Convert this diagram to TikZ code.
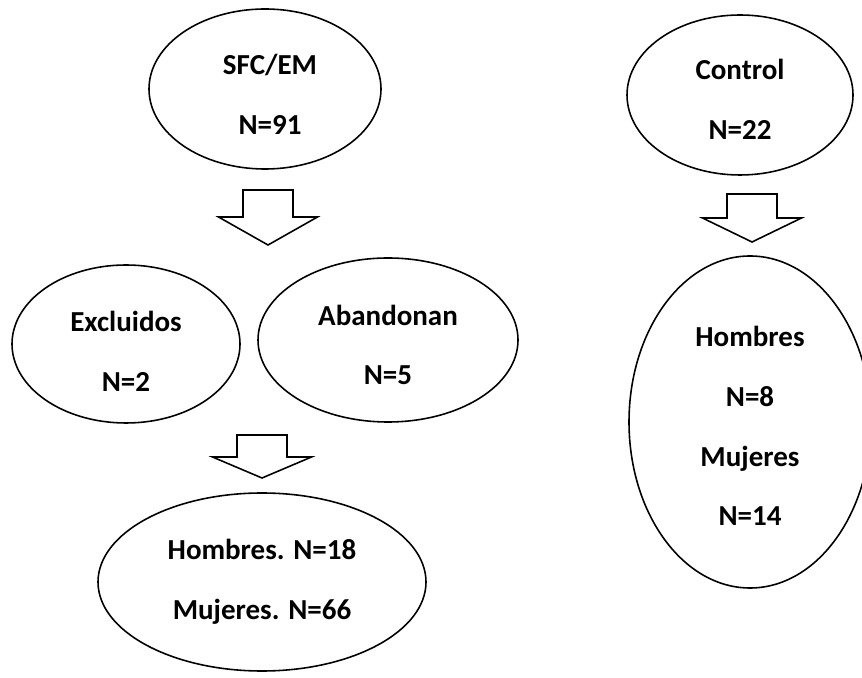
\documentclass[tikz,border=0pt]{standalone}
\usepackage{fontspec}
\setmainfont{Carlito}
\usepackage{tikz}
\usetikzlibrary{shapes.geometric}
\usetikzlibrary{arrows.meta, positioning}

\begin{document}
\begin{tikzpicture}[scale=1,
  blob/.style={draw, line width=0.9pt, ellipse, inner sep=0pt},
  txt/.style={align=center, font=\fontsize{16.5}{34}\selectfont\bfseries}]
\useasboundingbox (0,0) rectangle (17.24,13.54);
% Ellipses
\node[blob, minimum width=4.64cm, minimum height=3.2cm] (sfc) at (5.30, 11.76) {};
\node[blob, minimum width=4.52cm, minimum height=3.2cm] (control) at (14.80, 11.64) {};
\node[blob, minimum width=4.56cm, minimum height=3.16cm] (excl) at (2.52, 6.66) {};
\node[blob, minimum width=5.2cm, minimum height=3.28cm] (aband) at (7.76, 6.74) {};
\node[blob, minimum width=6.56cm, minimum height=3.56cm] (total) at (5.24, 1.90) {};
\node[blob, minimum width=4.84cm, minimum height=6.64cm] (ctrltotal) at (15.00, 5.10) {};
% Texts
\node[txt] (sfctxt) at ([shift={(0.1,-0.1)}]sfc.center) {SFC/EM\\N=91};
\node[txt] (controltxt) at ([yshift=-0.08cm]control.center) {Control\\N=22};
\node[txt] (excltxt) at ([yshift=-0.14cm]excl.center) {Excluidos\\N=2};
\node[txt] (abandtxt) at ([yshift=-0.1cm]aband.center) {Abandonan\\N=5};
\node[txt] (totaltxt) at (total.center) {Hombres. N=18\\Mujeres. N=66};
\node[txt] (ctrltotaltxt) at ([yshift=-0.08cm]ctrltotal.center) {Hombres\\N=8\\Mujeres\\N=14};
% Block arrows
\foreach \cx/\ytop/\ysh/\ytip in {5.36/9.74/9.20/8.64, 15.04/9.66/9.18/8.70, 5.24/4.84/4.40/3.98}
  \draw[line width=0.9pt, line join=miter] (\cx-0.5,\ytop) -- (\cx+0.5,\ytop) -- (\cx+0.5,\ysh)
    -- (\cx+0.99,\ysh) -- (\cx,\ytip) -- (\cx-0.99,\ysh) -- (\cx-0.5,\ysh) -- cycle;

\end{tikzpicture}
\end{document}
